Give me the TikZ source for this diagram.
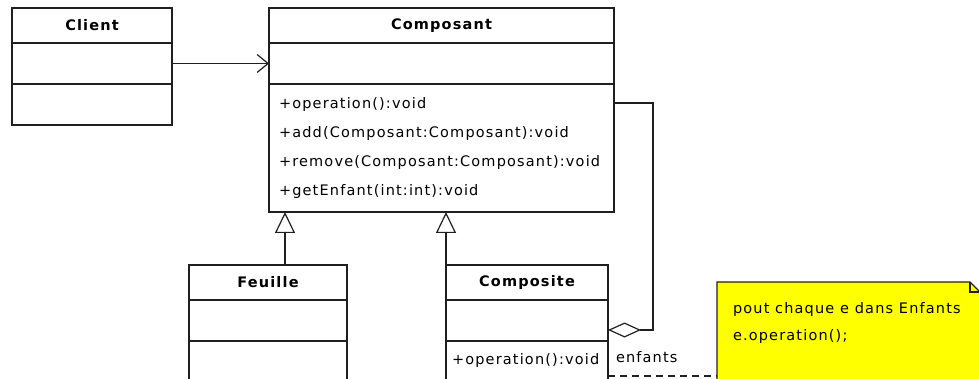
\documentclass[tikz,border=0pt]{standalone}
\usepackage{fontspec}
\setmainfont{DejaVu Sans}[LetterSpace=8]
\usetikzlibrary{arrows.meta, positioning, calc}
\definecolor{noteyellow}{rgb}{1,1,0}
\definecolor{umlline}{rgb}{0.12,0.12,0.12}

\begin{document}
\begin{tikzpicture}[x=1pt,y=-1pt,node distance=0pt,line width=1.2pt,draw=umlline,
                    font=\fontsize{14.5}{17}\selectfont]
  \tikzstyle{every node}=[outer sep=0pt]
  \tikzstyle{title}=[draw,inner sep=0pt,minimum height=35pt,font=\fontsize{14.5}{17}\selectfont\bfseries]
  \tikzstyle{part}=[draw,inner sep=0pt,minimum height=41pt]
  \tikzstyle{gen}=[-{Triangle[open,length=21pt,width=20pt]}]
  \tikzstyle{agg}=[-{Diamond[open,length=33pt,width=15pt]}]
  \tikzstyle{assoc}=[-{Straight Barb[length=11pt,width=18pt]}]

  \useasboundingbox (0,0) rectangle (979,379);
  \clip (0,0) rectangle (979,379);

  % Client
  \node[title,minimum width=160pt] (cliTitle) at (92,25.5) {Client};
  \node[part,minimum width=160pt,below=of cliTitle] (cliAttr) {};
  \node[part,minimum width=160pt,below=of cliAttr] (cliOps) {};

  % Composant
  \node[title,minimum width=345pt] (cmpTitle) at (441.5,25.5) {Composant};
  \node[part,minimum width=345pt,below=of cmpTitle] (cmpAttr) {};
  \node[part,minimum width=345pt,minimum height=128pt,below=of cmpAttr,
        align=left,text width=325pt,font=\fontsize{14.5}{28.7}\selectfont] (cmpOps)
        {+operation():void\\
         +add(Composant:Composant):void\\
         +remove(Composant:Composant):void\\
         +getEnfant(int:int):void};

  % Feuille
  \node[title,minimum width=158pt] (feuTitle) at (268,282.5) {Feuille};
  \node[part,minimum width=158pt,below=of feuTitle] (feuAttr) {};
  \node[part,minimum width=158pt,minimum height=60pt,below=of feuAttr] (feuOps) {};

  % Composite
  \node[title,minimum width=162pt] (cpsTitle) at (527,282.5) {Composite};
  \node[part,minimum width=162pt,below=of cpsTitle] (cpsAttr) {};
  \node[part,minimum width=162pt,minimum height=60pt,below=of cpsAttr] (cpsOps) {};
  \node[anchor=north west,inner sep=0pt] (cpsOp1) at ([xshift=6pt,yshift=-12pt]cpsOps.north west)
        {+operation():void};

  % note
  \node[minimum width=263pt,minimum height=120pt,anchor=north west] (note) at (717,282) {};
  \fill[noteyellow] (note.north west) -- ([xshift=-10pt]note.north east)
        -- ([yshift=-10pt]note.north east) -- (note.south east) -- (note.south west) -- cycle;
  \draw (note.south west) -- (note.north west) -- ([xshift=-10pt]note.north east)
        -- ([yshift=-10pt]note.north east) -- (note.south east);
  \draw ([xshift=-10pt]note.north east) |- ([yshift=-10pt]note.north east);
  \node[anchor=north west,inner sep=0pt,align=left,font=\fontsize{14.5}{27}\selectfont] (noteText)
        at ([xshift=16pt,yshift=-20pt]note.north west)
        {pout chaque e dans Enfants\\ e.operation();};

  % connectors
  \draw[assoc] (cliAttr.east) -- (cmpAttr.west);
  \draw[gen] ([xshift=17pt]feuTitle.north) -- ([xshift=17pt]feuTitle.north |- cmpOps.south);
  \draw[gen] (cpsTitle.north west) -- (cpsTitle.north west |- cmpOps.south);
  \draw[agg] ([yshift=-19pt]cmpOps.north east) -- ++(39,0) |- ([yshift=11pt]cpsAttr.south east);
  \node[anchor=west,inner sep=0pt] (enfants) at ([xshift=8pt,yshift=-16pt]cpsAttr.south east) {enfants};
  \draw[dash pattern=on 7pt off 5pt] (cpsOps.east |- 0,376) -- (note.west |- 0,376);
\end{tikzpicture}
\end{document}
